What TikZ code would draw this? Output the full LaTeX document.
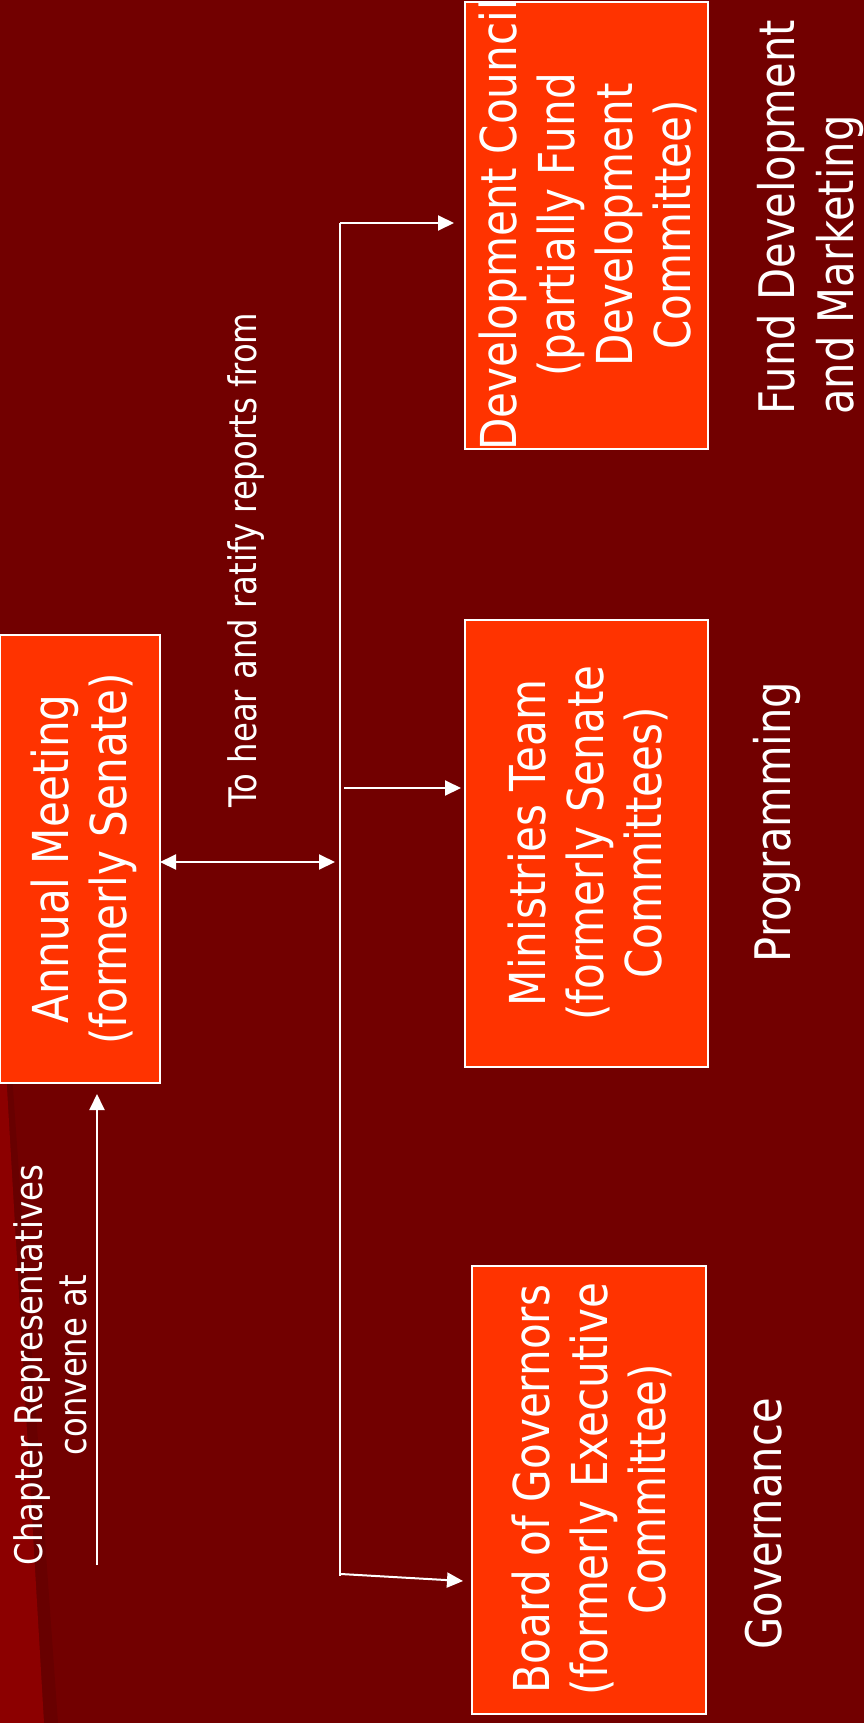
\documentclass[tikz,border=0pt]{standalone}
\usepackage{fontspec}
\setmainfont[FakeStretch=0.85]{DejaVu Sans}
\usetikzlibrary{arrows.meta}
\definecolor{bgred}{HTML}{720000}
\definecolor{boxred}{HTML}{FF3300}
\definecolor{lightred}{HTML}{8C0000}
\definecolor{bandred}{HTML}{680000}
\begin{document}
\begin{tikzpicture}[x=1pt,y=-1pt,
  boxstyle/.style={draw=white, line width=1.5pt, fill=boxred, inner sep=0pt},
  boxtext/.style={text=white, rotate=90, align=center, inner sep=0pt, font=\fontsize{49.5}{58}\selectfont},
  sidetext/.style={text=white, rotate=90, align=center, inner sep=0pt, font=\fontsize{49}{59}\selectfont},
  smalltext/.style={text=white, rotate=90, align=center, inner sep=0pt, font=\fontsize{38}{44}\selectfont},
  wline/.style={draw=white, line width=2pt},
  arr/.style={wline, -{Triangle[length=16pt,width=15pt]}},
  darr/.style={wline, {Triangle[length=16pt,width=15pt]}-{Triangle[length=16pt,width=15pt]}}]
\useasboundingbox (0,0) rectangle (864,1723);
\fill[bgred] (0,0) rectangle (864,1723);
\fill[bandred] (0,905) -- (58,1723) -- (0,1723) -- cycle;
\fill[lightred] (0,968) -- (44,1723) -- (0,1723) -- cycle;

% boxes
\node[boxstyle, minimum width=160pt, minimum height=448pt] (am) at (80,859) {};
\node[boxtext] (amt) at (84,859) {Annual Meeting\\(formerly Senate)};
\node[boxstyle, minimum width=243pt, minimum height=447pt] (dc) at (586.5,225.5) {};
\node[boxtext] (dct) at (588,225) {Development Council\\(partially Fund\\Development\\Committee)};
\node[boxstyle, minimum width=243pt, minimum height=447pt] (mt) at (586.5,843.5) {};
\node[boxtext] (mtt) at (588,843) {Ministries Team\\(formerly Senate\\Committees)};
\node[boxstyle, minimum width=234pt, minimum height=448pt] (bg) at (589,1490) {};
\node[boxtext] (bgt) at (592,1489) {Board of Governors\\(formerly Executive\\Committee)};

% side labels
\node[sidetext, anchor=west, align=left] (fdm) at (810,415) {Fund Development\\and Marketing};
\node[sidetext] (prog) at (777,822) {Programming};
\node[sidetext] (gov) at (764,1524) {Governance};

% small texts
\node[smalltext] (chap) at (50,1365) {Chapter Representatives\\convene at};
\node[smalltext] (hear) at (246,560) {To hear and ratify reports from};

% connectors
\coordinate (tTop) at (340,223);
\coordinate (tBot) at (340,1576);
\coordinate (dce) at (454,223);
\coordinate (mts) at (344,788);
\coordinate (mte) at (461,788);
\coordinate (bgs) at (341,1574);
\coordinate (bge) at (463,1581);
\coordinate (das) at (160,862);
\coordinate (dae) at (335,862);
\coordinate (chs) at (97,1565);
\coordinate (che) at (97,1094);

\draw[wline] (tTop) -- (tBot);
\draw[arr] (tTop) -- (dce);
\draw[arr] (mts) -- (mte);
\draw[arr] (bgs) -- (bge);
\draw[darr] (das) -- (dae);
\draw[arr] (chs) -- (che);
\end{tikzpicture}
\end{document}
